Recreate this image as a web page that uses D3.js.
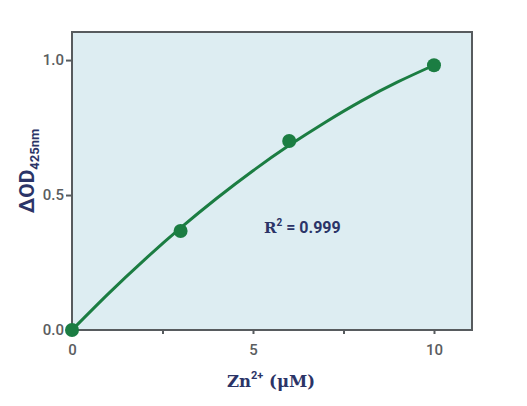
<!DOCTYPE html>
<html><head><meta charset="utf-8">
<script src="https://cdn.jsdelivr.net/npm/d3@7"></script>
<style>body{margin:0;background:#fff}svg{display:block}</style>
</head><body>
<svg id="c" width="527" height="406"></svg>
<script>
const pointX = [0, 3, 6, 10];
const pointY = [0, 0.367, 0.70, 0.981];
const curveX = [0, 1, 2, 3, 4, 5, 6, 7, 8, 9, 10];
const curveY = [0, 0.134, 0.260, 0.378, 0.488, 0.590, 0.684, 0.770, 0.849, 0.919, 0.981];
const xTicks = [0, 2.5, 5, 7.5, 10];
const xTickLabels = ["0", "", "5", "", "10"];
const yTicks = [0, 0.5, 1.0];
const yTickLabels = ["0.0", "0.5", "1.0"];
const r2Label = "0.999";

const svg = d3.select("#c");
const L = 72, R = 472, T = 32, B = 330;
const x = d3.scaleLinear().domain([0, 11.05]).range([L, R]);
const y = d3.scaleLinear().domain([0, 1.104]).range([B, T]);
const green = "#1b7d42", frame = "#575b5e", navy = "#2b3467";

svg.append("rect").attr("x", L).attr("y", T).attr("width", R - L).attr("height", B - T)
  .attr("fill", "#ddedf2");

const xa = svg.append("g").attr("transform", `translate(0,${B})`)
  .call(d3.axisBottom(x).tickValues(xTicks).tickSize(4).tickPadding(10)
    .tickFormat((d, i) => xTickLabels[i]));
const ya = svg.append("g").attr("transform", `translate(${L},0)`)
  .call(d3.axisLeft(y).tickValues(yTicks).tickSize(6).tickPadding(2)
    .tickFormat((d, i) => yTickLabels[i]));
[xa, ya].forEach(a => {
  a.select(".domain").remove();
  a.selectAll(".tick line").attr("stroke", frame).attr("stroke-width", 2);
  a.selectAll(".tick text").attr("fill", "#5a5d60").attr("font-family", "Roboto, sans-serif")
    .attr("font-weight", 500).attr("font-size", 15);
});

svg.append("rect").attr("x", L).attr("y", T).attr("width", R - L).attr("height", B - T)
  .attr("fill", "none").attr("stroke", frame).attr("stroke-width", 2);

const line = d3.line().x(d => x(d[0])).y(d => y(d[1])).curve(d3.curveNatural);
svg.append("path").datum(curveX.map((v, i) => [v, curveY[i]]))
  .attr("d", line).attr("fill", "none").attr("stroke", green).attr("stroke-width", 3);

svg.selectAll("circle.p").data(pointX.map((v, i) => [v, pointY[i]])).join("circle")
  .attr("class", "p").attr("cx", d => x(d[0])).attr("cy", d => y(d[1])).attr("r", 7)
  .attr("fill", green);

// R^2 label
const rt = svg.append("text").attr("x", 264).attr("y", 233).attr("fill", navy)
  .attr("font-size", 16).attr("font-weight", 700);
rt.append("tspan").attr("font-family", "'DejaVu Serif', serif").attr("font-size", 15).text("R");
rt.append("tspan").attr("font-family", "Roboto, sans-serif").attr("font-size", 10).attr("dy", -7).text("2");
rt.append("tspan").attr("font-family", "Roboto, sans-serif").attr("dy", 7).text(" = " + r2Label);

// x title
const xt = svg.append("text").attr("x", 271).attr("y", 387).attr("text-anchor", "middle")
  .attr("fill", navy).attr("font-family", "'DejaVu Serif', serif").attr("font-weight", 700).attr("font-size", 16.5);
xt.append("tspan").text("Zn");
xt.append("tspan").attr("font-size", 11).attr("dy", -8).attr("font-family", "Roboto, sans-serif").text("2+");
xt.append("tspan").attr("dy", 8).text(" (μM)");

// y title
const yt = svg.append("text").attr("transform", "translate(34,171) rotate(-90)").attr("text-anchor", "middle")
  .attr("fill", navy).attr("font-family", "Roboto, sans-serif").attr("font-weight", 700).attr("font-size", 21);
yt.append("tspan").text("ΔOD");
yt.append("tspan").attr("font-size", 13).attr("dy", 5).text("425nm");
</script>
</body></html>
